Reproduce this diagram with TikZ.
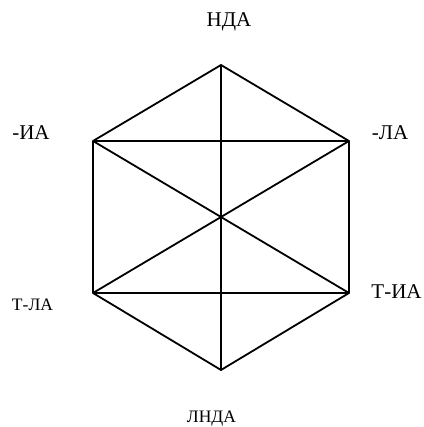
\documentclass[tikz,border=0pt]{standalone}
\usepackage{fontspec}
\setmainfont{Liberation Serif}
\begin{document}
\begin{tikzpicture}[x=1pt,y=-1pt,
  edge/.style={line width=1.8pt,line join=round},
  biglab/.style={font=\fontsize{21}{24}\selectfont,anchor=base,inner sep=0pt},
  smalllab/.style={font=\fontsize{17.5}{20}\selectfont,anchor=base,inner sep=0pt}]
\useasboundingbox (0,0) rectangle (423,427);
\coordinate (T) at (221,65);
\coordinate (UR) at (349,141);
\coordinate (LR) at (349,293);
\coordinate (B) at (221,370);
\coordinate (LL) at (93,293);
\coordinate (UL) at (93,141);
\draw[edge] (T) -- (UR) -- (LR) -- (B) -- (LL) -- (UL) -- cycle;
\draw[edge] (UL) -- (UR);
\draw[edge] (LL) -- (LR);
\draw[edge] (T) -- (B);
\draw[edge] (UL) -- (LR);
\draw[edge] (UR) -- (LL);
\node[biglab] (nda) at (229,27) {НДА};
\node[biglab] (ia) at (31,140) {-ИА};
\node[biglab] (la) at (390,140) {-ЛА};
\node[biglab] (tia) at (396.5,298) {Т-ИА};
\node[smalllab] (tla) at (32.5,310) {Т-ЛА};
\node[smalllab] (lnda) at (211.5,422) {ЛНДА};
\end{tikzpicture}
\end{document}
